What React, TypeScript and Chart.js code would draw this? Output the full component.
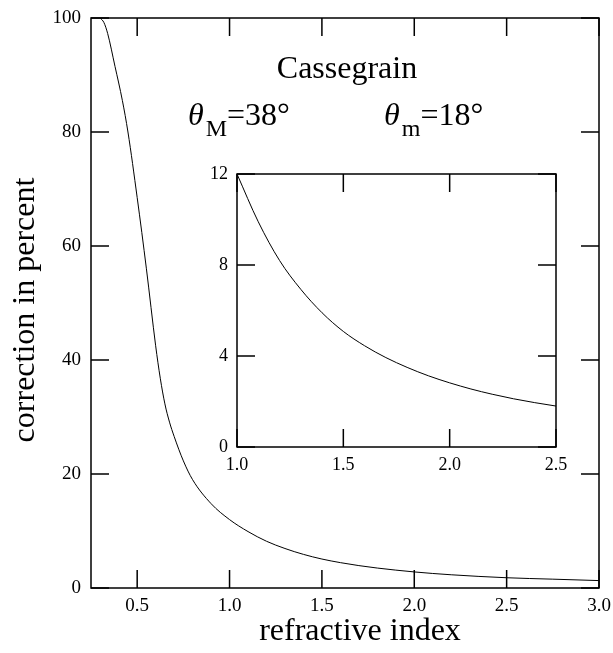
import React, { useEffect, useRef } from "react";
import { Chart, registerables } from "chart.js";

Chart.register(...registerables);

// ---- Data ----
const mainX = [0.30, 0.32, 0.34, 0.38, 0.42, 0.45, 0.50, 0.55, 0.60, 0.625, 0.65, 0.675, 0.70, 0.75, 0.80, 0.90, 1.0, 1.1, 1.2, 1.3, 1.4, 1.5, 1.6, 1.7, 1.8, 2.0, 2.2, 2.5, 2.75, 3.0];
const mainY = [100, 99.2, 97.3, 91.5, 85.5, 80, 68.5, 56, 42.5, 36.8, 32.3, 29.1, 26.6, 22.3, 19, 14.8, 12, 9.9, 8.2, 6.93, 5.9, 5.08, 4.45, 3.93, 3.5, 2.82, 2.32, 1.8, 1.55, 1.3];

const insetX = [1.0, 1.1, 1.2, 1.3, 1.4, 1.5, 1.6, 1.7, 1.8, 1.9, 2.0, 2.1, 2.2, 2.3, 2.4, 2.5];
const insetY = [12, 9.9, 8.2, 6.93, 5.9, 5.08, 4.45, 3.93, 3.5, 3.13, 2.82, 2.55, 2.32, 2.12, 1.95, 1.8];

const mainXTicks = [0.5, 1.0, 1.5, 2.0, 2.5, 3.0];
const mainYTicks = [0, 20, 40, 60, 80, 100];
const insetXTicks = [1.0, 1.5, 2.0, 2.5];
const insetYTicks = [0, 4, 8, 12];

const xTitle = "refractive index";
const yTitle = "correction in percent";
const plotTitle = "Cassegrain";

const SERIF = '"Liberation Serif", "Times New Roman", serif';

const framePlugin = (len: number) => ({
  id: "frameTicks",
  afterDraw(chart: any) {
    const { ctx, chartArea, scales } = chart;
    const { left, right, top, bottom } = chartArea;
    const x = scales.x;
    const y = scales.y;
    ctx.save();
    ctx.strokeStyle = "#000";
    ctx.lineWidth = 1.5;
    ctx.strokeRect(left, top, right - left, bottom - top);
    ctx.beginPath();
    x.ticks.forEach((t: any) => {
      const px = x.getPixelForValue(t.value);
      ctx.moveTo(px, bottom);
      ctx.lineTo(px, bottom - len);
      ctx.moveTo(px, top);
      ctx.lineTo(px, top + len);
    });
    y.ticks.forEach((t: any) => {
      const py = y.getPixelForValue(t.value);
      ctx.moveTo(left, py);
      ctx.lineTo(left + len, py);
      ctx.moveTo(right, py);
      ctx.lineTo(right - len, py);
    });
    ctx.stroke();
    ctx.restore();
  },
});

const labelPlugin = {
  id: "labels",
  afterDraw(chart: any) {
    const { ctx } = chart;
    ctx.save();
    ctx.fillStyle = "#000";
    ctx.textBaseline = "alphabetic";
    ctx.textAlign = "center";
    ctx.font = `32px ${SERIF}`;
    ctx.fillText(plotTitle, 347, 78);
    // axis titles
    ctx.fillText(xTitle, 360, 640);
    ctx.save();
    ctx.translate(34, 310);
    ctx.rotate(-Math.PI / 2);
    ctx.fillText(yTitle, 0, 0);
    ctx.restore();
    ctx.textAlign = "left";
    const drawTheta = (x0: number, sub: string, rest: string) => {
      let x = x0;
      ctx.font = `italic 32px ${SERIF}`;
      ctx.fillText("\u03B8", x, 125);
      x += ctx.measureText("\u03B8").width + 2;
      ctx.font = `24px ${SERIF}`;
      ctx.fillText(sub, x, 136);
      x += ctx.measureText(sub).width;
      ctx.font = `32px ${SERIF}`;
      ctx.fillText(rest, x, 125);
    };
    drawTheta(188, "M", "=38\u00B0");
    drawTheta(384, "m", "=18\u00B0");
    ctx.restore();
  },
};

const noPad = (s: any) => {
  s.paddingLeft = 0;
  s.paddingRight = 0;
  s.paddingTop = 0;
  s.paddingBottom = 0;
};

function MainChart() {
  const ref = useRef<HTMLCanvasElement>(null);
  useEffect(() => {
    const chart = new Chart(ref.current!, {
      type: "line",
      data: {
        datasets: [
          {
            data: mainX.map((x, i) => ({ x, y: mainY[i] })),
            borderColor: "#000",
            borderWidth: 1,
            pointRadius: 0,
            cubicInterpolationMode: "monotone",
            fill: false,
          },
        ],
      },
      options: {
        responsive: false,
        animation: false,
        events: [],
        layout: { padding: { left: 0, right: 14, top: 18, bottom: 0 } },
        plugins: { legend: { display: false }, tooltip: { enabled: false } },
        scales: {
          x: {
            type: "linear",
            min: 0.25,
            max: 3.0,
            afterBuildTicks: (s: any) => {
              s.ticks = mainXTicks.map((v) => ({ value: v }));
            },
            afterFit: (s: any) => {
              s.height = 65;
              noPad(s);
            },
            grid: { display: false, drawTicks: false },
            border: { display: false },
            ticks: {
              color: "#000",
              font: { family: SERIF, size: 19 },
              padding: 7,
              maxRotation: 0,
              autoSkip: false,
              callback: (v: any) => Number(v).toFixed(1),
            },
          },
          y: {
            type: "linear",
            min: 0,
            max: 100,
            afterBuildTicks: (s: any) => {
              s.ticks = mainYTicks.map((v) => ({ value: v }));
            },
            afterFit: (s: any) => {
              s.width = 91;
              noPad(s);
            },
            grid: { display: false, drawTicks: false },
            border: { display: false },
            ticks: {
              color: "#000",
              font: { family: SERIF, size: 19 },
              padding: 10,
              autoSkip: false,
            },
          },
        },
      },
      plugins: [framePlugin(18), labelPlugin],
    } as any);
    return () => chart.destroy();
  }, []);
  return <canvas ref={ref} width={613} height={653} style={{ position: "absolute", left: 0, top: 0 }} />;
}

function InsetChart() {
  const ref = useRef<HTMLCanvasElement>(null);
  useEffect(() => {
    const chart = new Chart(ref.current!, {
      type: "line",
      data: {
        datasets: [
          {
            data: insetX.map((x, i) => ({ x, y: insetY[i] })),
            borderColor: "#000",
            borderWidth: 1,
            pointRadius: 0,
            cubicInterpolationMode: "monotone",
            fill: false,
          },
        ],
      },
      options: {
        responsive: false,
        animation: false,
        events: [],
        layout: { padding: { left: 0, right: 14, top: 24, bottom: 0 } },
        plugins: { legend: { display: false }, tooltip: { enabled: false } },
        scales: {
          x: {
            type: "linear",
            min: 1.0,
            max: 2.5,
            afterBuildTicks: (s: any) => {
              s.ticks = insetXTicks.map((v) => ({ value: v }));
            },
            afterFit: (s: any) => {
              s.height = 33;
              noPad(s);
            },
            grid: { display: false, drawTicks: false },
            border: { display: false },
            ticks: {
              color: "#000",
              font: { family: SERIF, size: 18 },
              padding: 7,
              maxRotation: 0,
              autoSkip: false,
              callback: (v: any) => Number(v).toFixed(1),
            },
          },
          y: {
            type: "linear",
            min: 0,
            max: 12,
            afterBuildTicks: (s: any) => {
              s.ticks = insetYTicks.map((v) => ({ value: v }));
            },
            afterFit: (s: any) => {
              s.width = 47;
              noPad(s);
            },
            grid: { display: false, drawTicks: false },
            border: { display: false },
            ticks: {
              color: "#000",
              font: { family: SERIF, size: 18 },
              padding: 9,
              autoSkip: false,
            },
          },
        },
      },
      plugins: [framePlugin(18)],
    } as any);
    return () => chart.destroy();
  }, []);
  return <canvas ref={ref} width={380} height={330} style={{ position: "absolute", left: 190, top: 150 }} />;
}

export default function App() {
  return (
    <div style={{ position: "absolute", left: 0, top: 0, width: 613, height: 653, background: "#fff" }}>
      <MainChart />
      <InsetChart />
    </div>
  );
}
